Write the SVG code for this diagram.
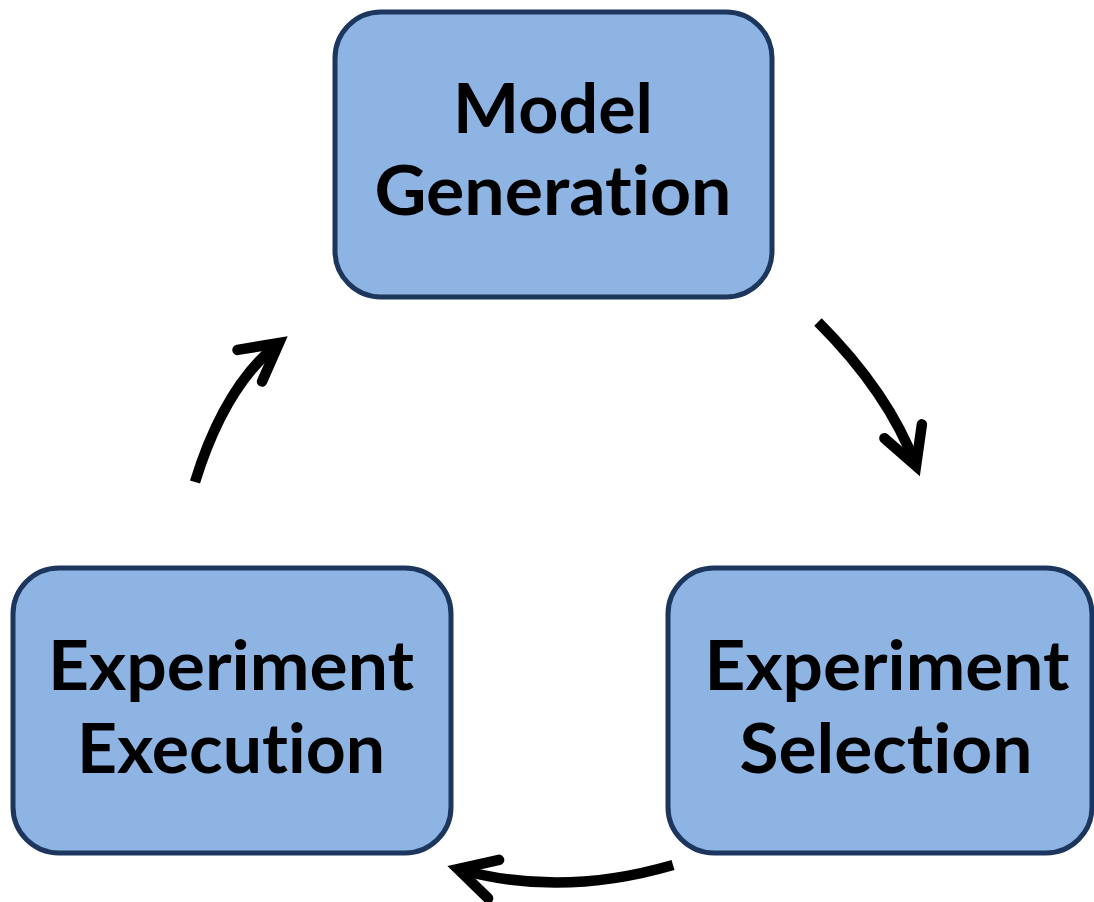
<svg xmlns="http://www.w3.org/2000/svg" width="1094" height="902" viewBox="0 0 1094 902">
  <style>
    .box { fill: #8EB4E3; stroke: #1C365E; stroke-width: 5; }
    .label { font-family: Lato, "Open Sans", "Liberation Sans", sans-serif; font-weight: bold; font-size: 68px; fill: #000; text-anchor: middle; font-variant-ligatures: none; font-feature-settings: "liga" 0, "clig" 0; }
    .conn { fill: none; stroke: #000; stroke-width: 10.5; stroke-linecap: butt; }
  </style>
  <defs>
    <marker id="chev" markerUnits="userSpaceOnUse" orient="auto" refX="0" refY="0" markerWidth="1" markerHeight="1" overflow="visible">
      <path d="M-37,-20 L0,0 L-37,20" fill="none" stroke="#000" stroke-width="10.5" stroke-linecap="round" stroke-linejoin="miter" stroke-miterlimit="10"/>
    </marker>
  </defs>
  <rect width="1094" height="902" fill="#fff"/>

  <g id="model-generation">
    <rect class="box" x="335" y="12" width="437" height="285" rx="46" ry="46"/>
    <text class="label" x="553" y="133" textLength="200" lengthAdjust="spacingAndGlyphs">Model</text>
    <text class="label" x="553" y="215" textLength="357" lengthAdjust="spacingAndGlyphs">Generation</text>
  </g>

  <g id="experiment-execution">
    <rect class="box" x="13" y="568" width="438" height="285" rx="46" ry="46"/>
    <text class="label" x="231" y="690" textLength="366" lengthAdjust="spacingAndGlyphs">Experiment</text>
    <text class="label" x="231" y="773" textLength="308" lengthAdjust="spacingAndGlyphs">Execution</text>
  </g>

  <g id="experiment-selection">
    <rect class="box" x="668" y="568" width="424" height="285" rx="46" ry="46"/>
    <text class="label" x="887" y="690" textLength="365" lengthAdjust="spacingAndGlyphs">Experiment</text>
    <text class="label" x="886" y="773" textLength="293" lengthAdjust="spacingAndGlyphs">Selection</text>
  </g>

  <g id="connectors">
    <path class="conn" d="M818,322 Q889,393 916,466" marker-end="url(#chev)"/>
    <path class="conn" d="M673,865 Q560,898 458,869" marker-end="url(#chev)"/>
    <path class="conn" d="M195,482 Q225,385 279,343" marker-end="url(#chev)"/>
  </g>
</svg>
